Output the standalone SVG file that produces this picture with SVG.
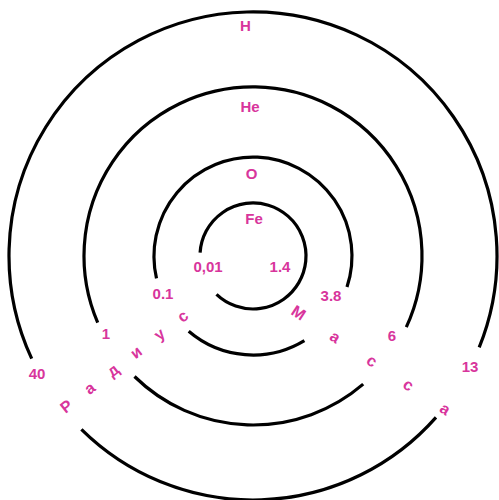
<svg xmlns="http://www.w3.org/2000/svg" width="499" height="500" viewBox="0 0 499 500">
<style>
.ring{fill:none;stroke:#000;stroke-width:3.2;stroke-linecap:butt}
.t{font-family:"Liberation Sans",Arial,sans-serif;font-weight:bold;font-size:15px;fill:#d8359c;text-anchor:middle}
.d{font-size:16px}
</style>
<rect width="499" height="500" fill="#fff"/>
<g id="rings">
<g id="ring-H"><path class="ring" d="M31.7,358.7 A244,244 0 1 1 479.2,347.4"/><path class="ring" d="M436,417.4 A244,244 0 0 1 81.4,429.4"/></g>
<g id="ring-He"><path class="ring" d="M97.7,322.6 A169,169 0 1 1 406.3,327.1"/><path class="ring" d="M363.2,384.1 A169,169 0 0 1 134.5,376.5"/></g>
<g id="ring-O"><path class="ring" d="M156.5,278.3 A99,99 0 1 1 347,287.1"/><path class="ring" d="M304.4,340.6 A99,99 0 0 1 188.7,331.3"/></g>
<g id="ring-Fe"><path class="ring" d="M200.1,252.7 A53,53 0 1 1 216.5,294.4"/></g>
</g>
<g id="labels">
<text class="t" x="245.5" y="30.5">H</text>
<text class="t" x="250" y="111.5">He</text>
<text class="t" x="251.5" y="178.5">O</text>
<text class="t" x="254" y="223.5">Fe</text>
<text class="t" x="208" y="271.5">0,01</text>
<text class="t" x="280" y="271.5">1.4</text>
<text class="t" x="163" y="298.5">0.1</text>
<text class="t" x="331" y="300.5">3.8</text>
<text class="t" x="106" y="338.5">1</text>
<text class="t" x="392" y="340.5">6</text>
<text class="t" x="37" y="378.5">40</text>
<text class="t" x="470" y="371.5">13</text>
</g>
<g id="axis-labels">
<text class="t d" transform="translate(66.7,406.7) rotate(-37.8)" x="0 29.4 58.8 88.2 117.6 147" y="5 5 5 5 5 5">Радиус</text>
<text class="t d" transform="translate(298.3,313.3) rotate(33.2)" x="0 43.8 87.6 131.4 175.2" y="5 5 5 5 5">Масса</text>
</g>
</svg>
